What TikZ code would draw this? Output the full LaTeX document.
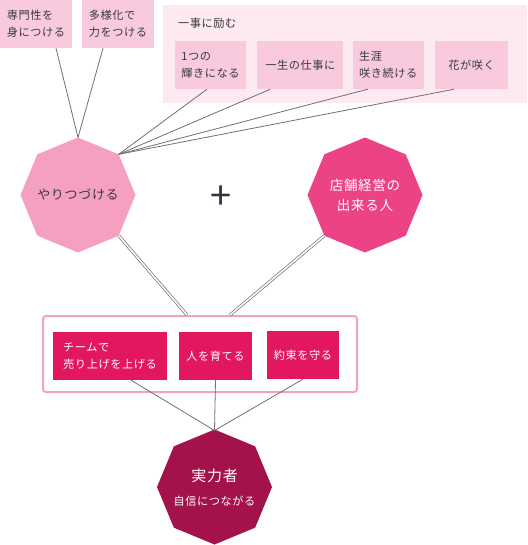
\documentclass[tikz,border=0pt]{standalone}
\usepackage{fontspec}
\setmainfont{Noto Sans CJK JP}[LetterSpace=5]
\usetikzlibrary{positioning,calc}
\definecolor{boxpink}{HTML}{F9CADD}
\definecolor{panelpink}{HTML}{FDE9F0}
\definecolor{octlight}{HTML}{F5A0C0}
\definecolor{octhot}{HTML}{EC4286}
\definecolor{crim}{HTML}{E2175F}
\definecolor{octdark}{HTML}{A3124A}
\definecolor{framepink}{HTML}{F2A3C3}
\definecolor{lngray}{HTML}{707070}
\definecolor{txtgray}{HTML}{3A3A3A}
\definecolor{plusgray}{HTML}{2E3540}

\begin{document}
\begin{tikzpicture}[
  x=1pt, y=-1pt,
  font=\fontsize{11.2}{17}\selectfont,
  lbox/.style={fill=boxpink, text=txtgray, align=left, inner sep=0pt,
               minimum height=48pt, minimum width=72pt},
  cbox/.style={fill=crim, text=white, align=left, inner sep=0pt,
               minimum height=48pt, minimum width=73pt},
  oct/.style={circle, minimum size=115pt, inner sep=0pt, outer sep=0pt, align=center},
  thin/.style={draw=lngray, line width=0.8pt},
  dbl/.style={draw=lngray, double=white, double distance=1.6pt, line width=0.7pt}
]
\useasboundingbox (0,0) rectangle (527,545);
% top
\node[fill=panelpink, minimum width=364pt, minimum height=98pt, inner sep=0pt] (panel) at (345,54) {};
\node[anchor=west, text=txtgray, inner sep=0pt] (hagemu) at (178,23) {一事に励む};
\node[lbox] (senmon) at (36,24) {専門性を\\身につける};
\node[lbox] (tayou) at (118,24) {多様化で\\力をつける};
\node[lbox, minimum width=71pt] (kagayaki) at (210.5,65) {1つの\\輝きになる};
\node[lbox, minimum width=86pt, right=11pt of kagayaki] (shigoto) {一生の仕事に};
\node[lbox, minimum width=71pt, right=9pt of shigoto] (shogai) {生涯\\咲き続ける};
\node[lbox, minimum width=73pt, right=11pt of shogai] (hana) {花が咲く};
% octagons
\foreach \col/\cx/\cy in {octlight/78/195, octhot/365/195, octdark/214.5/487}
  \fill[\col, shift={(\cx,\cy)}] (0:57.5) -- (45:57.5) -- (90:57.5) -- (135:57.5)
    -- (180:57.5) -- (225:57.5) -- (270:57.5) -- (315:57.5) -- cycle;
\node[oct, text=txtgray, font=\fontsize{13}{20}\selectfont] (yaritsuzuke) at (78,195) {やりつづける};
\node[oct, text=white, font=\fontsize{13.5}{20}\selectfont] (tenpo) at (365,195) {店舗経営の\\出来る人};
\node[text=plusgray, font=\fontsize{38}{38}\selectfont, inner sep=0pt] (plus) at (221.5,198) {+};
% bottom
\node[draw=framepink, line width=2pt, rounded corners=3pt, fill=white,
      minimum width=314pt, minimum height=76pt, inner sep=0pt] (frame) at (200,354) {};
\node[cbox, minimum width=114pt] (team) at (110,356) {チームで\\売り上げを上げる};
\node[cbox] (sodateru) at (215.5,356) {人を育てる};
\node[cbox, minimum width=72pt] (yakusoku) at (303,355) {約束を守る};
\node[oct, text=white] (jitsuryoku) at (214.5,488)
  {{\fontsize{15}{20}\selectfont 実力者}\\[7pt]自信につながる};

\draw[thin] ([xshift=20pt]senmon.south) -- (yaritsuzuke.north);
\draw[thin] ([xshift=-15pt]tayou.south) -- (yaritsuzuke.north);
\draw[thin] ([xshift=-3.5pt]kagayaki.south) -- (yaritsuzuke.45);
\draw[thin] ([xshift=-30pt]shigoto.south) -- (yaritsuzuke.45);
\draw[thin] ([xshift=-20.5pt]shogai.south) -- (yaritsuzuke.45);
\draw[thin] ([xshift=-17.5pt]hana.south) -- (yaritsuzuke.45);
\draw[dbl] (yaritsuzuke.-45) -- ([xshift=-13pt]frame.north);
\draw[dbl] (tenpo.-135) -- ([xshift=30pt]frame.north);
\draw[thin] ([xshift=21pt]team.south) -- (jitsuryoku.north);
\draw[thin] (sodateru.south) -- (jitsuryoku.north);
\draw[thin] (yakusoku.south) -- (jitsuryoku.north);
\end{tikzpicture}
\end{document}
